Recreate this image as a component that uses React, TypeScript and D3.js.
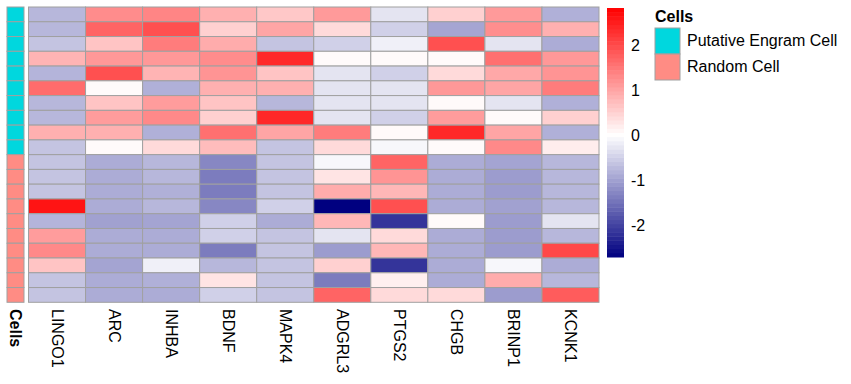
import React from 'react';
import * as d3 from 'd3';

const genes = ['LINGO1', 'ARC', 'INHBA', 'BDNF', 'MAPK4', 'ADGRL3', 'PTGS2', 'CHGB', 'BRINP1', 'KCNK1'];

const cellGroups = ['Putative Engram Cell', 'Random Cell'];
const cellTypes = [
  'Putative Engram Cell', 'Putative Engram Cell', 'Putative Engram Cell', 'Putative Engram Cell', 'Putative Engram Cell',
  'Putative Engram Cell', 'Putative Engram Cell', 'Putative Engram Cell', 'Putative Engram Cell', 'Putative Engram Cell',
  'Random Cell', 'Random Cell', 'Random Cell', 'Random Cell', 'Random Cell',
  'Random Cell', 'Random Cell', 'Random Cell', 'Random Cell', 'Random Cell',
];
const groupColors = ['#00d7de', '#ff8c84'];

// scaled expression, one row per cell, columns in gene order
const zScores = [
  [-0.76, 1.27, 1.35, 0.87, 0.61, 1.12, -0.29, 0.52, 1.12, -0.84],
  [-0.76, 1.71, 1.94, 0.52, 1.0, 0.41, -0.5, -0.96, 1.25, 0.87],
  [-0.63, 0.65, 1.45, 0.92, -0.63, -0.5, -0.16, 1.94, -0.29, -0.88],
  [0.83, 1.14, 1.14, 1.27, 2.38, 0.05, 0.05, 0.05, 1.58, 1.14],
  [-0.8, 1.94, 0.83, 1.18, 0.65, -0.29, -0.5, 0.41, 0.96, 1.18],
  [1.63, 0.05, -0.84, 0.87, 0.87, -0.29, -0.29, 1.14, 1.0, 1.45],
  [-0.76, 0.65, 1.09, 0.65, -0.76, -0.29, -0.29, 0.05, -0.29, -0.84],
  [-0.76, 1.09, 1.31, 0.52, 2.38, -0.29, -0.5, 1.09, 0.05, 0.52],
  [0.87, 0.87, -0.84, 1.58, 1.0, 1.45, 0.05, 2.38, 1.0, -0.84],
  [-0.63, 0.05, 0.41, 0.74, -0.63, 0.41, -0.08, 0.05, 1.31, 0.2],
  [-0.63, -0.88, -0.76, -1.27, -0.63, -0.08, 1.71, -0.88, -0.97, -0.76],
  [-0.63, -0.88, -0.76, -1.39, -0.63, 0.3, 1.18, -0.88, -1.05, -0.76],
  [-0.63, -0.88, -0.84, -1.39, -0.63, 0.92, 0.8, -0.88, -1.05, -0.76],
  [2.6, -0.88, -0.76, -1.27, -0.5, -2.71, 1.94, -0.88, -1.0, -0.76],
  [-0.8, -1.0, -0.97, -0.5, -0.88, 0.8, -2.16, 0.05, -1.05, -0.29],
  [1.09, -0.88, -0.88, -0.5, -0.63, -0.29, 0.41, -0.88, -1.05, -0.76],
  [1.31, -0.88, -0.88, -1.39, -0.63, -1.05, 0.8, -0.88, -1.05, 2.02],
  [0.65, -0.97, -0.16, -0.76, -0.63, 0.52, -2.16, -0.88, -0.08, -0.88],
  [-0.63, -0.88, -0.84, 0.3, -0.63, -1.39, 0.18, -0.88, 0.92, -0.76],
  [-0.63, -0.88, -0.88, -0.5, -0.63, 1.71, 0.41, 0.41, -1.05, 1.8],
];

const legendTicks = [2, 1, 0, -1, -2];
const scaleMin = -2.71;
const scaleMax = 2.82;

const W = 851;
const H = 384;
const font = '"Liberation Sans", Arial, sans-serif';
const gridColor = '#a0a0a0';

export default function App() {
  const rowIds = d3.range(cellTypes.length).map(String);

  const x = d3.scaleBand<string>().domain(genes).range([28.5, 599]);
  const y = d3.scaleBand<string>().domain(rowIds).range([7, 302.3]);

  const color = d3.scaleLinear<string>()
    .domain([scaleMin, 0, scaleMax])
    .range(['#000080', '#ffffff', '#ff0000'])
    .clamp(true);

  const groupColor = d3.scaleOrdinal<string, string>().domain(cellGroups).range(groupColors);

  // colour key
  const key = d3.scaleLinear().domain([scaleMin, scaleMax]).range([257, 8]);
  const steps = 60;
  const stepEdges = d3.range(steps + 1).map(i => scaleMin + (i * (scaleMax - scaleMin)) / steps);

  return (
    <svg width={W} height={H} style={{ display: 'block', position: 'absolute', left: 0, top: 0 }} fontFamily={font}>
      <rect width={W} height={H} fill="#fff" />

      {/* annotation column */}
      {cellTypes.map((c, i) => (
        <rect
          key={'a' + i}
          x={7}
          y={y(String(i))}
          width={17}
          height={y.bandwidth()}
          fill={groupColor(c)}
          stroke={gridColor}
          strokeWidth={1}
        />
      ))}

      {/* heatmap cells */}
      {zScores.map((row, i) =>
        row.map((v, j) => (
          <rect
            key={`c${i}-${j}`}
            x={x(genes[j])}
            y={y(String(i))}
            width={x.bandwidth()}
            height={y.bandwidth()}
            fill={color(v)}
            stroke={gridColor}
            strokeWidth={1}
          />
        ))
      )}

      {/* column labels */}
      {genes.map(g => (
        <text
          key={g}
          transform={`translate(${(x(g) ?? 0) + x.bandwidth() / 2 - 5.5},309) rotate(90)`}
          fontSize={16}
          fill="#000"
        >
          {g}
        </text>
      ))}
      <text transform="translate(9.5,309) rotate(90)" fontSize={16} fontWeight="bold" fill="#000">
        Cells
      </text>

      {/* colour bar */}
      {stepEdges.slice(0, -1).map((v, i) => (
        <rect
          key={'k' + i}
          x={607}
          y={key(stepEdges[i + 1])}
          width={17}
          height={key(v) - key(stepEdges[i + 1]) + 0.5}
          fill={color((v + stepEdges[i + 1]) / 2)}
        />
      ))}
      {legendTicks.map(t => (
        <text key={'t' + t} x={631} y={key(t)} dy="0.35em" fontSize={16} fill="#000">
          {t}
        </text>
      ))}

      {/* group legend */}
      <text x={655} y={21.5} fontSize={16} fontWeight="bold" fill="#000">
        Cells
      </text>
      {cellGroups.map((g, i) => (
        <g key={g}>
          <rect x={655} y={28 + i * 26} width={25} height={26} fill={groupColor(g)} stroke={gridColor} />
          <text x={687} y={46 + i * 26} fontSize={16} fill="#000">
            {g}
          </text>
        </g>
      ))}
    </svg>
  );
}
